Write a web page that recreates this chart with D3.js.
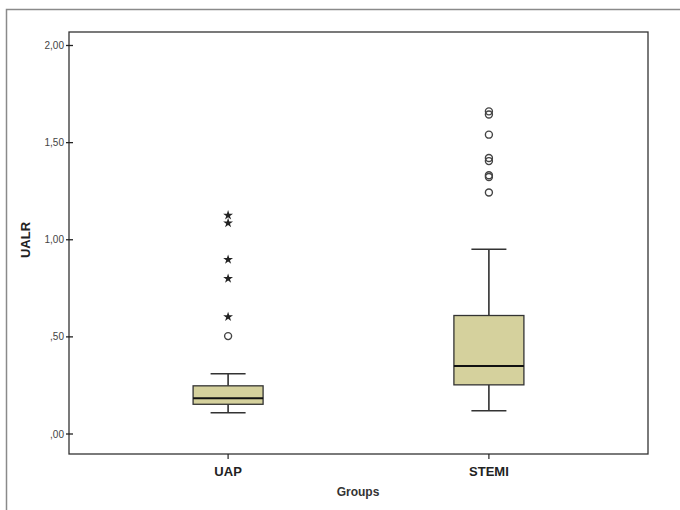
<!DOCTYPE html>
<html>
<head>
<meta charset="utf-8">
<script src="https://cdn.jsdelivr.net/npm/d3@7"></script>
<style>
  html, body { margin: 0; padding: 0; background: #fff; }
  svg { display: block; }
  text { font-family: "Liberation Sans", Arial, sans-serif; }
</style>
</head>
<body>
<svg id="chart" width="680" height="510"></svg>
<script>
// ---- data ----
const categories = ["UAP", "STEMI"];
const q1 = [0.153, 0.253];
const medians = [0.184, 0.350];
const q3 = [0.248, 0.610];
const whiskerLow = [0.11, 0.12];
const whiskerHigh = [0.31, 0.951];
// mild outliers (circles)
const outliersUAP = [0.504];
const outliersSTEMI = [1.661, 1.645, 1.541, 1.421, 1.405, 1.332, 1.323, 1.243];
// extreme outliers (stars)
const extremesUAP = [1.126, 1.086, 0.898, 0.80, 0.603];
const extremesSTEMI = [];
const yTicks = [0, 0.5, 1.0, 1.5, 2.0];
const yTickLabels = [",00", ",50", "1,00", "1,50", "2,00"];
const yTitle = "UALR";
const xTitle = "Groups";

const outliers = [outliersUAP, outliersSTEMI];
const extremes = [extremesUAP, extremesSTEMI];

// ---- layout ----
const svg = d3.select("#chart");
const plot = { left: 69, right: 648, top: 32, bottom: 454 };

const y = d3.scaleLinear().domain([0, 2]).range([434, 45.5]);
const x = d3.scalePoint().domain(categories).range([plot.left, plot.right]).padding(0.61);
const boxW = 70;
const capW = 35;

// outer frame
svg.append("path")
  .attr("d", "M6.5,510 L6.5,9.5 L680,9.5")
  .attr("fill", "none").attr("stroke", "#8a8a8a").attr("stroke-width", 1.5);

// plot frame
svg.append("rect")
  .attr("x", plot.left).attr("y", plot.top)
  .attr("width", plot.right - plot.left).attr("height", plot.bottom - plot.top)
  .attr("fill", "none").attr("stroke", "#333").attr("stroke-width", 1.3);

// y axis ticks & labels
const yAxisG = svg.append("g");
yTicks.forEach((t, i) => {
  yAxisG.append("line")
    .attr("x1", plot.left - 3).attr("x2", plot.left + 4)
    .attr("y1", y(t)).attr("y2", y(t))
    .attr("stroke", "#222").attr("stroke-width", 1.3);
  yAxisG.append("text")
    .attr("x", plot.left - 5).attr("y", y(t))
    .attr("dy", "0.35em").attr("text-anchor", "end")
    .attr("font-size", 10).attr("fill", "#444")
    .text(yTickLabels[i]);
});

// x axis ticks & labels
categories.forEach(c => {
  svg.append("line")
    .attr("x1", x(c)).attr("x2", x(c))
    .attr("y1", plot.bottom).attr("y2", plot.bottom + 5)
    .attr("stroke", "#222").attr("stroke-width", 1.2);
  svg.append("text")
    .attr("x", x(c)).attr("y", 476)
    .attr("text-anchor", "middle")
    .attr("font-size", 13).attr("font-weight", "bold").attr("fill", "#222")
    .text(c);
});

// axis titles
svg.append("text")
  .attr("transform", `translate(30,240) rotate(-90)`)
  .attr("text-anchor", "middle")
  .attr("font-size", 13).attr("font-weight", "bold").attr("fill", "#222")
  .text(yTitle);
svg.append("text")
  .attr("x", 358).attr("y", 496)
  .attr("text-anchor", "middle")
  .attr("font-size", 12).attr("font-weight", "bold").attr("fill", "#333")
  .text(xTitle);

// boxes
const star = d3.symbol().type(d3.symbolStar).size(30);
categories.forEach((c, i) => {
  const cx = x(c);
  const g = svg.append("g");
  // whiskers
  g.append("line").attr("x1", cx).attr("x2", cx)
    .attr("y1", y(q3[i])).attr("y2", y(whiskerHigh[i]))
    .attr("stroke", "#222").attr("stroke-width", 1.5);
  g.append("line").attr("x1", cx).attr("x2", cx)
    .attr("y1", y(q1[i])).attr("y2", y(whiskerLow[i]))
    .attr("stroke", "#222").attr("stroke-width", 1.5);
  g.append("line").attr("x1", cx - capW / 2).attr("x2", cx + capW / 2)
    .attr("y1", y(whiskerHigh[i])).attr("y2", y(whiskerHigh[i]))
    .attr("stroke", "#333").attr("stroke-width", 1.5);
  g.append("line").attr("x1", cx - capW / 2).attr("x2", cx + capW / 2)
    .attr("y1", y(whiskerLow[i])).attr("y2", y(whiskerLow[i]))
    .attr("stroke", "#333").attr("stroke-width", 1.5);
  // box
  g.append("rect")
    .attr("x", cx - boxW / 2).attr("width", boxW)
    .attr("y", y(q3[i])).attr("height", y(q1[i]) - y(q3[i]))
    .attr("fill", "#d5d19d").attr("stroke", "#333").attr("stroke-width", 1.3);
  // median
  g.append("line").attr("x1", cx - boxW / 2).attr("x2", cx + boxW / 2)
    .attr("y1", y(medians[i])).attr("y2", y(medians[i]))
    .attr("stroke", "#111").attr("stroke-width", 2.2);
  // outliers
  outliers[i].forEach(v => {
    g.append("circle").attr("cx", cx).attr("cy", y(v)).attr("r", 3.5)
      .attr("fill", "none").attr("stroke", "#444").attr("stroke-width", 1.4);
  });
  extremes[i].forEach(v => {
    g.append("path").attr("d", star)
      .attr("transform", `translate(${cx},${y(v)})`)
      .attr("fill", "#222");
  });
});
</script>
</body>
</html>
